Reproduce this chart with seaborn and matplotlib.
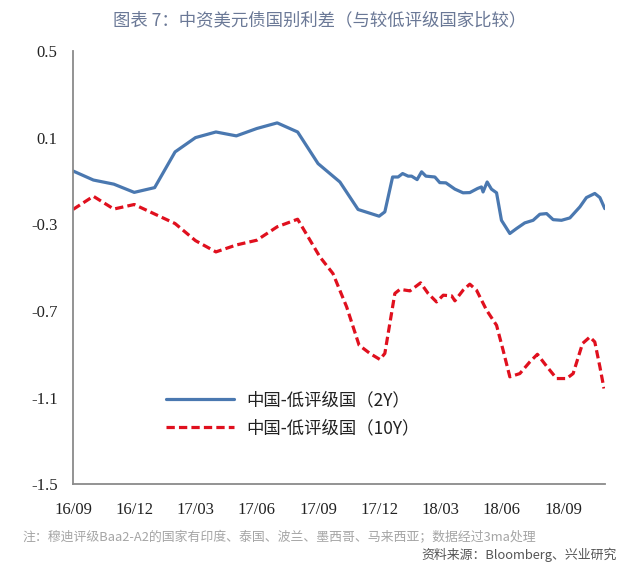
import pandas as pd
import numpy as np
import matplotlib.pyplot as plt
import seaborn as sns

# ------------------------------------------------------------------
# data (x = months since 2016/09)
# ------------------------------------------------------------------
m_2y = [0, 1, 2, 3, 4, 5, 6, 7, 8, 9, 10, 11, 12,
        13.07, 13.96, 14.99, 15.27, 15.65, 15.92, 16.14, 16.41, 16.58, 16.85,
        17.07, 17.28, 17.72, 17.96, 18.26, 18.70, 19.10, 19.43, 19.81, 20.00,
        20.08, 20.28, 20.49, 20.74, 20.98, 21.39, 21.72, 22.12, 22.53, 22.86,
        23.19, 23.51, 23.92, 24.33, 24.82, 25.14, 25.55, 25.80, 26.04]
v_2y = [-0.053, -0.095, -0.114, -0.152, -0.130, 0.035, 0.101, 0.127, 0.109,
        0.143, 0.169, 0.127, -0.019,
        -0.104, -0.231, -0.262, -0.242, -0.081, -0.081, -0.065, -0.077, -0.077,
        -0.093, -0.057, -0.077, -0.081, -0.107, -0.108, -0.137, -0.154, -0.153,
        -0.134, -0.127, -0.150, -0.104, -0.137, -0.154, -0.281, -0.342, -0.319,
        -0.293, -0.281, -0.253, -0.250, -0.278, -0.281, -0.270, -0.219, -0.176,
        -0.157, -0.176, -0.227]

m_10y = [0, 1, 2, 3, 4, 5, 6, 7, 8, 9, 10, 11,
         12.09, 12.73, 13.40, 14.01, 14.54, 15.03, 15.27, 15.76, 16.01, 16.50,
         17.02, 17.39, 17.80, 18.13, 18.54, 18.70, 19.10, 19.43, 19.76, 20.25,
         20.74, 21.06, 21.39, 21.88, 22.37, 22.74, 23.19, 23.68, 24.17, 24.49,
         24.95, 25.31, 25.55, 25.80, 26.00]
v_10y = [-0.231, -0.170, -0.229, -0.208, -0.252, -0.296, -0.375, -0.427,
         -0.395, -0.373, -0.311, -0.276,
         -0.450, -0.527, -0.681, -0.858, -0.896, -0.924, -0.896, -0.619, -0.600,
         -0.607, -0.570, -0.619, -0.658, -0.627, -0.630, -0.653, -0.604, -0.576,
         -0.604, -0.696, -0.766, -0.881, -1.004, -0.989, -0.935, -0.900, -0.955,
         -1.012, -1.012, -0.989, -0.850, -0.820, -0.843, -0.958, -1.058]

x_ticks = [0, 3, 6, 9, 12, 15, 18, 21, 24]
x_labels = ['16/09', '16/12', '17/03', '17/06', '17/09', '17/12', '18/03', '18/06', '18/09']
y_ticks = [0.5, 0.1, -0.3, -0.7, -1.1, -1.5]

label_2y = '中国-低评级国（2Y）'
label_10y = '中国-低评级国（10Y）'

df_2y = pd.DataFrame({'m': m_2y, 'v': v_2y})
df_10y = pd.DataFrame({'m': m_10y, 'v': v_10y})

# ------------------------------------------------------------------
# plot
# ------------------------------------------------------------------
sns.set_style('white')
plt.rcParams['font.family'] = ['Noto Sans CJK SC', 'DejaVu Sans']

fig = plt.figure(figsize=(6.4, 5.63), dpi=100)
ax = fig.add_axes([0.114, 0.140, 0.831, 0.769])

sns.lineplot(data=df_2y, x='m', y='v', ax=ax, color='#4a78b0', linewidth=2.3,
             label=label_2y)
sns.lineplot(data=df_10y, x='m', y='v', ax=ax, color='#e0101e', linewidth=2.3,
             linestyle=(0, (2.6, 1.3)), label=label_10y)

ax.set_xlim(0, 26.04)
ax.set_ylim(-1.5, 0.5)
ax.set_xticks(x_ticks)
ax.set_xticklabels(x_labels)
ax.set_yticks(y_ticks)
ax.set_yticklabels([f'{t:.1f}' for t in y_ticks])
ax.set_xlabel('')
ax.set_ylabel('')

for side in ['top', 'right']:
    ax.spines[side].set_visible(False)
for side in ['left', 'bottom']:
    ax.spines[side].set_color('#8a8a8a')
    ax.spines[side].set_linewidth(1.3)

ax.tick_params(axis='both', direction='in', length=5, width=1.1, color='#8a8a8a',
               labelsize=12, labelcolor='#222222')
ax.tick_params(axis='x', pad=13)
ax.tick_params(axis='y', pad=11)
for t in ax.get_xticklabels() + ax.get_yticklabels():
    t.set_family('Liberation Serif')

leg = ax.legend(loc='upper left', bbox_to_anchor=(0.175, 0.214), frameon=False,
                fontsize=12.5, handlelength=3.9, handletextpad=0.7,
                labelspacing=0.55, borderpad=0, borderaxespad=0)
for t in leg.get_texts():
    t.set_color('#222222')

fig.text(0.5, 1 - 20 / 563, '图表 7：中资美元债国别利差（与较低评级国家比较）',
         ha='center', va='center', fontsize=12.5, color='#6a7896')
fig.text(0.035, 1 - 538 / 563,
         '注：穆迪评级Baa2-A2的国家有印度、泰国、波兰、墨西哥、马来西亚；数据经过3ma处理',
         ha='left', va='center', fontsize=9.3, color='#a5a5a5')
fig.text(0.963, 1 - 555 / 563, '资料来源：Bloomberg、兴业研究',
         ha='right', va='center', fontsize=9.3, color='#555555')

fig.savefig('out.png', dpi=100)
